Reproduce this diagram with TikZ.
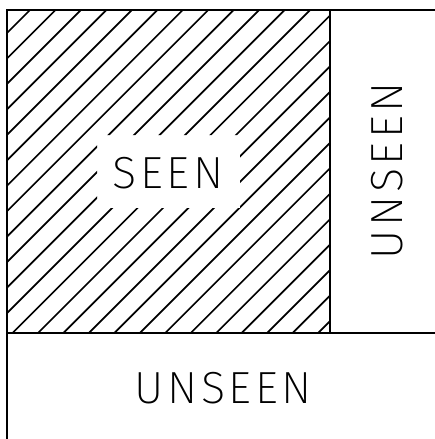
\documentclass[tikz,border=0pt]{standalone}
\usepackage{fontspec}
\newfontfamily\lblfont{Fira Sans ExtraLight}[LetterSpace=8]
\begin{document}
\begin{tikzpicture}[x=1pt,y=-1pt,
  border/.style={line width=2.2pt,line cap=rect},
  hatchline/.style={line width=1.7pt},
  lbl/.style={inner sep=0pt,font=\lblfont\fontsize{45}{45}\selectfont}]
\useasboundingbox (0,0) rectangle (434,439);
% hatching
\begin{scope}[even odd rule]
  \clip (7,10) rectangle (330,333) (97,135) rectangle (240,208);
  \foreach \k in {0,...,24}{
    \pgfmathsetmacro\c{40+25.46*\k}
    \draw[hatchline] (\c,0) -- (\c-460,460);
  }
\end{scope}
% frame lines
\draw[border] (434,10) -- (7,10) -- (7,439);
\draw[border] (7,333) -- (434,333);
\draw[border] (330,10) -- (330,333);
% labels
\node[lbl] (seen) at (168,173) {SEEN};
\node[lbl] (unseenb) at (223,388) {UNSEEN};
\node[lbl,rotate=90] (unseenr) at (387.5,171) {UNSEEN};
\end{tikzpicture}
\end{document}
